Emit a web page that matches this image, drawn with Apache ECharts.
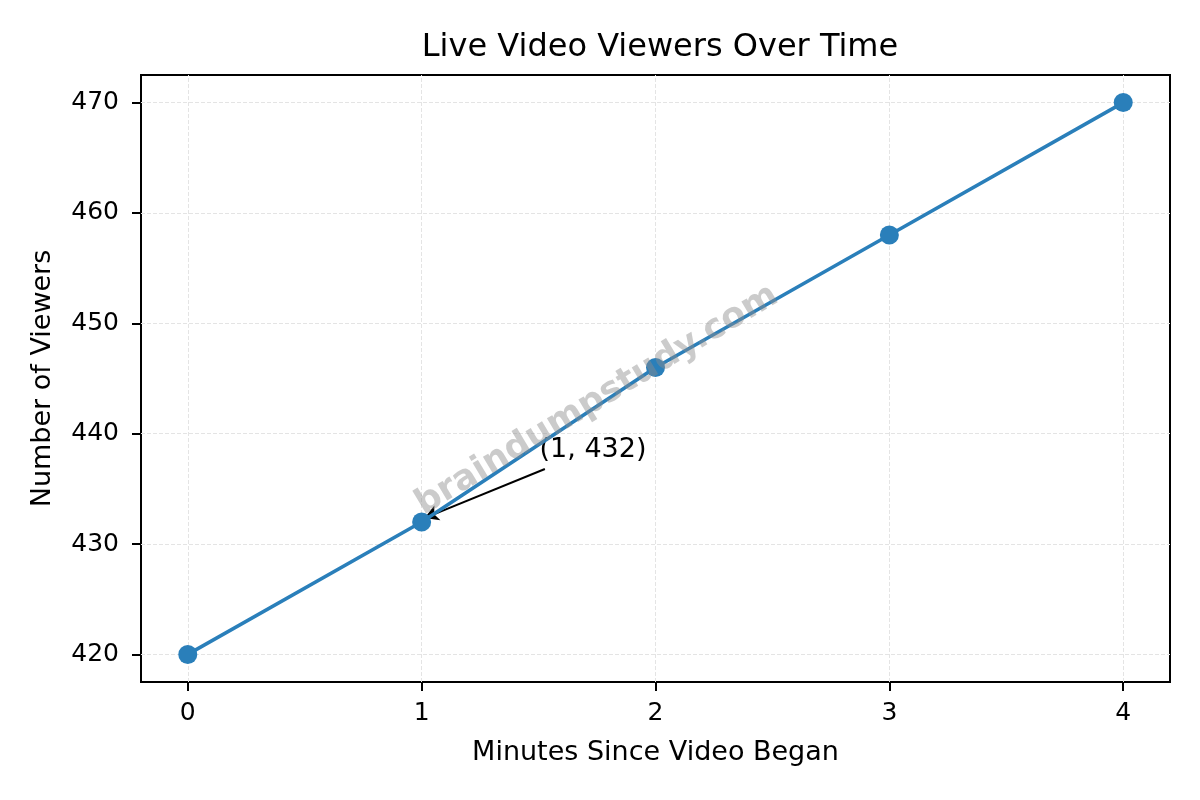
<!DOCTYPE html>
<html>
<head>
<meta charset="utf-8">
<script src="https://cdn.jsdelivr.net/npm/echarts@6/dist/echarts.min.js"></script>
<style>
  html, body { margin: 0; padding: 0; background: #fff; }
  #chart { width: 1200px; height: 800px; }
</style>
</head>
<body>
<div id="chart"></div>
<script>
// data
var minutes = [0, 1, 2, 3, 4];
var viewers = [420, 432, 446, 458, 470];
var xTicks = [0, 1, 2, 3, 4];
var yTicks = [420, 430, 440, 450, 460, 470];
var noteText = '(1, 432)';
var notePoint = [1, 432];
var noteTextAt = [1.5, 438];

var font = 'DejaVu Sans';
var myChart = echarts.init(document.getElementById('chart'));

var option = {
    backgroundColor: '#fff',
    animation: false,
    title: {
        text: 'Live Video Viewers Over Time',
        left: 655, top: 27, textAlign: 'center',
        textStyle: { fontFamily: font, fontSize: 32, fontWeight: 'normal', color: '#000' }
    },
    grid: {
        left: 141, right: 30, top: 75, bottom: 118,
        show: true, borderColor: '#000', borderWidth: 2, backgroundColor: 'transparent'
    },
    xAxis: {
        type: 'value', min: -0.2, max: 4.2,
        name: 'Minutes Since Video Began', nameLocation: 'middle', nameGap: 57,
        nameTextStyle: { fontFamily: font, fontSize: 27, color: '#000' },
        axisLine: { show: false, onZero: false },
        axisTick: { show: true, length: 9, inside: false, customValues: xTicks, lineStyle: { color: '#000', width: 2, type: 'solid' } },
        axisLabel: { customValues: xTicks, margin: 19, fontFamily: font, fontSize: 25, color: '#000' },
        splitLine: { show: false }
    },
    yAxis: {
        type: 'value', min: 417.5, max: 472.5,
        name: 'Number of Viewers', nameLocation: 'middle', nameGap: 85, nameRotate: 90,
        nameTextStyle: { fontFamily: font, fontSize: 27, color: '#000' },
        axisLine: { show: false, onZero: false },
        axisTick: { show: true, length: 9, inside: false, customValues: yTicks, lineStyle: { color: '#000', width: 2, type: 'solid' } },
        axisLabel: { customValues: yTicks, margin: 22, fontFamily: font, fontSize: 25, color: '#000' },
        splitLine: { show: false }
    },
    series: [
        // grid lines
        {
            type: 'line', data: [], silent: true, z: 0, zlevel: 0,
            markLine: {
                silent: true, symbol: 'none', label: { show: false },
                lineStyle: { color: '#e4e4e4', type: [4, 2], width: 1 },
                data: xTicks.map(function (v) { return { xAxis: v }; })
                    .concat(yTicks.map(function (v) { return { yAxis: v }; }))
            }
        },
        {
            type: 'line',
            data: minutes.map(function (m, i) { return [m, viewers[i]]; }),
            symbol: 'circle', symbolSize: 19,
            lineStyle: { color: '#2a7fba', width: 3.6 },
            itemStyle: { color: '#2a7fba' },
            z: 5,
            markLine: {
                silent: true, symbol: ['none', 'arrow'], symbolSize: [12, 14],
                label: { show: false },
                lineStyle: { color: '#000', type: 'solid', width: 2 },
                data: [[
                    { coord: [1.527, 436.8] },
                    { coord: [notePoint[0] + 0.012, notePoint[1] + 0.35] }
                ]]
            },
            markPoint: {
                silent: true, symbol: 'circle', symbolSize: 0,
                label: {
                    show: true, formatter: noteText, position: 'right', distance: 0,
                    offset: [1, -6],
                    fontFamily: font, fontSize: 27, color: '#000'
                },
                data: [{ coord: noteTextAt }]
            }
        }
    ],
    graphic: [{
        type: 'text', x: 597, y: 400, rotation: 31 * Math.PI / 180,
        style: {
            text: 'braindumpstudy.com', fill: 'rgba(140,140,140,0.45)',
            font: 'bold 35px "DejaVu Sans"', align: 'center', verticalAlign: 'middle'
        },
        z: 10
    }]
};
myChart.setOption(option);
</script>
</body>
</html>
